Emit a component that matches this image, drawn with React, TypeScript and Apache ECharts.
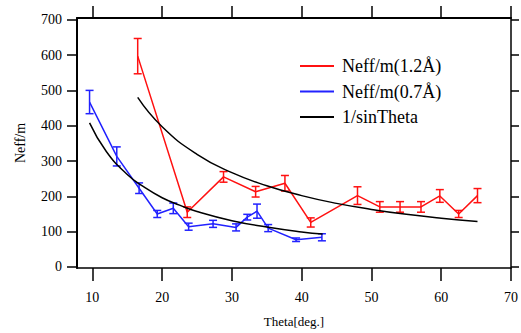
import React, { useEffect, useRef } from "react";
import * as echarts from "echarts";

const redX = [16.5, 23.6, 28.8, 33.4, 37.6, 41.3, 48.0, 51.2, 54.1, 57.1, 59.8, 62.5, 65.2];
const redY = [597, 155, 255, 213, 237, 126, 202, 170, 170, 170, 201, 150, 202];
const redErr = [50, 15, 15, 15, 22, 13, 25, 15, 15, 15, 18, 10, 20];

const blueX = [9.6, 13.5, 16.7, 19.3, 21.6, 23.8, 27.3, 30.6, 32.2, 33.6, 35.2, 39.2, 42.9];
const blueY = [467, 313, 223, 150, 166, 114, 122, 112, 141, 158, 110, 77, 84];
const blueErr = [33, 27, 15, 10, 15, 10, 10, 10, 8, 20, 10, 5, 10];

const curve1X = [16.5, 20, 25, 30, 35, 40, 45, 50, 55, 60, 65.2];
const curve1Y = [480, 397, 319, 267, 230, 202, 180, 163, 149, 138, 129];
const curve2X = [9.6, 12, 15, 17.5, 20, 22.5, 25, 30, 35, 40, 43];
const curve2Y = [408, 327, 262, 225, 196, 175, 157, 131, 113, 99, 93];

const xTicks = [10, 20, 30, 40, 50, 60, 70];
const yTicks = [0, 100, 200, 300, 400, 500, 600, 700];

const RED = "#ff1111";
const BLUE = "#2222ff";
const FONT = "'Liberation Serif', 'Times New Roman', serif";

const zip = (xs: number[], ys: number[]) => xs.map((x, i) => [x, ys[i]]);
const zip3 = (xs: number[], ys: number[], es: number[]) => xs.map((x, i) => [x, ys[i], es[i]]);

function errRender(color: string) {
  return (params: any, api: any) => {
    const x = api.value(0);
    const y = api.value(1);
    const e = api.value(2);
    const top = api.coord([x, y + e]);
    const bot = api.coord([x, y - e]);
    const hw = 4;
    const style = { stroke: color, lineWidth: 1.5 };
    return {
      type: "group",
      children: [
        { type: "line", shape: { x1: top[0], y1: top[1], x2: bot[0], y2: bot[1] }, style },
        { type: "line", shape: { x1: top[0] - hw, y1: top[1], x2: top[0] + hw, y2: top[1] }, style },
        { type: "line", shape: { x1: bot[0] - hw, y1: bot[1], x2: bot[0] + hw, y2: bot[1] }, style },
      ],
    };
  };
}

export default function App() {
  const ref = useRef<HTMLDivElement>(null);
  useEffect(() => {
    if (!ref.current) return;
    const chart = echarts.init(ref.current, null, { renderer: "svg" });
    const axisLine = (w: number) => ({ show: true, onZero: false, lineStyle: { color: "#000", width: w } });
    chart.setOption({
      animation: false,
      backgroundColor: "#fff",
      textStyle: { fontFamily: FONT },
      grid: { left: 77, right: 10, top: 18, bottom: 63 },
      legend: {
        left: 295,
        top: 51,
        orient: "vertical",
        itemWidth: 34,
        itemHeight: 2,
        itemGap: 5.5,
        icon: "rect",
        data: ["Neff/m(1.2Å)", "Neff/m(0.7Å)", "1/sinTheta"],
        textStyle: { fontFamily: FONT, fontSize: 18, color: "#000", lineHeight: 20, padding: [0, 0, 0, 3] },
      },
      xAxis: [
        {
          type: "value",
          position: "bottom",
          min: 7.8,
          max: 70,
          name: "Theta[deg.]",
          nameLocation: "middle",
          nameGap: 47,
          nameTextStyle: { fontFamily: FONT, fontSize: 13, color: "#000" },
          axisLine: axisLine(1.5),
          axisTick: { show: true, length: 13, customValues: xTicks, lineStyle: { color: "#000", width: 1.5 } },
          axisLabel: { customValues: xTicks, margin: 22, fontFamily: FONT, fontSize: 14, color: "#000" },
          splitLine: { show: false },
        },
        {
          type: "value",
          position: "top",
          min: 7.8,
          max: 70,
          axisLine: axisLine(2),
          axisTick: { show: true, length: 12, customValues: xTicks, lineStyle: { color: "#000", width: 1.5 } },
          axisLabel: { show: false },
          splitLine: { show: false },
        },
      ],
      yAxis: [
        {
          type: "value",
          position: "left",
          min: -3,
          max: 705,
          name: "Neff/m",
          nameLocation: "middle",
          nameGap: 50,
          nameTextStyle: { fontFamily: FONT, fontSize: 14, color: "#000" },
          axisLine: axisLine(2),
          axisTick: { show: true, length: 10, customValues: yTicks, lineStyle: { color: "#000", width: 1.5 } },
          axisLabel: { customValues: yTicks, margin: 15, fontFamily: FONT, fontSize: 14, color: "#000" },
          splitLine: { show: false },
        },
        {
          type: "value",
          position: "right",
          min: -3,
          max: 705,
          axisLine: axisLine(1.5),
          axisTick: { show: true, length: 8, customValues: yTicks, lineStyle: { color: "#000", width: 1.5 } },
          axisLabel: { show: false },
          splitLine: { show: false },
        },
      ],
      series: [
        {
          name: "Neff/m(1.2Å)",
          type: "line",
          data: zip(redX, redY),
          symbol: "none",
          lineStyle: { color: RED, width: 1.5 },
          itemStyle: { color: RED },
        },
        {
          name: "Neff/m(0.7Å)",
          type: "line",
          data: zip(blueX, blueY),
          symbol: "none",
          lineStyle: { color: BLUE, width: 1.5 },
          itemStyle: { color: BLUE },
        },
        {
          name: "1/sinTheta",
          type: "line",
          data: zip(curve1X, curve1Y),
          symbol: "none",
          smooth: true,
          lineStyle: { color: "#000", width: 1.5 },
          itemStyle: { color: "#000" },
        },
        {
          name: "1/sinTheta",
          type: "line",
          data: zip(curve2X, curve2Y),
          symbol: "none",
          smooth: true,
          lineStyle: { color: "#000", width: 1.5 },
          itemStyle: { color: "#000" },
        },
        {
          name: "redErr",
          type: "custom",
          data: zip3(redX, redY, redErr),
          encode: { x: 0, y: 1 },
          renderItem: errRender(RED),
          z: 3,
        },
        {
          name: "blueErr",
          type: "custom",
          data: zip3(blueX, blueY, blueErr),
          encode: { x: 0, y: 1 },
          renderItem: errRender(BLUE),
          z: 3,
        },
      ],
    });
    return () => chart.dispose();
  }, []);
  return <div ref={ref} style={{ width: 521, height: 333, position: "absolute", left: 0, top: 0 }} />;
}
